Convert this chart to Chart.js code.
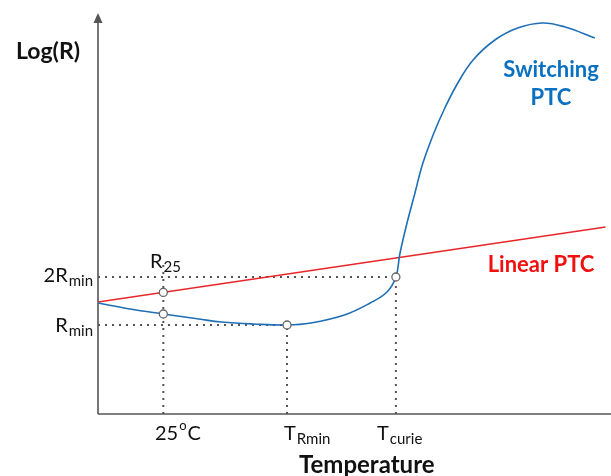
<!DOCTYPE html>
<html>
<head>
<meta charset="utf-8">
<script src="https://cdn.jsdelivr.net/npm/chart.js@4"></script>
<style>
  body { margin: 0; background: #fff; }
  canvas { display: block; }
</style>
</head>
<body>
<canvas id="ptcChart" width="611" height="476"></canvas>
<script>
// Curve values (x = temperature units, y = log(R) units)
const switchingX = [0, 32, 66, 102, 125, 157, 191, 215, 249, 275, 292, 301, 305, 312, 320, 328, 339, 350, 363, 379, 401, 424, 449, 472, 502];
const switchingY = [111, 105, 100, 95, 92, 90, 89, 91, 99, 111, 122, 137, 160, 190, 220, 250, 280, 305, 330, 354, 374, 386, 391, 387, 376];
const linearX = [0, 513];
const linearY = [112, 187];

// Reference points
const t25 = 66, tRmin = 191, tCurie = 301;
const rMin = 89, twoRMin = 137, r25Top = 150;
const markerX = [66, 66, 191, 301];
const markerY = [121.6, 100, 89, 137];

const blue = "#1f6fb5";
const red = "#e8262a";
const dotted = "#555555";

function pts(xs, ys) {
    return xs.map(function(x, i) { return {x: x, y: ys[i]}; });
}

function guide(data) {
    return {
        data: data,
        order: 3,
        borderColor: dotted,
        borderWidth: 2,
        borderDash: [2, 5],
        pointRadius: 0,
        fill: false
    };
}

// Axes with arrow plus all the text labels
const annotations = {
    id: "annotations",
    beforeDatasetsDraw: function(chart) {
        const ctx = chart.ctx;
        const x = chart.scales.x, y = chart.scales.y;
        const x0 = x.getPixelForValue(0), y0 = y.getPixelForValue(0);
        ctx.save();
        ctx.strokeStyle = "#555";
        ctx.lineWidth = 1.6;
        ctx.beginPath();
        ctx.moveTo(x0, y0);
        ctx.lineTo(x0, 20);
        ctx.moveTo(x0, y0);
        ctx.lineTo(611, y0);
        ctx.stroke();
        ctx.fillStyle = "#555";
        ctx.beginPath();
        ctx.moveTo(x0, 13);
        ctx.lineTo(x0 - 4.5, 23);
        ctx.lineTo(x0 + 4.5, 23);
        ctx.closePath();
        ctx.fill();
        ctx.restore();
    },
    afterDraw: function(chart) {
        const ctx = chart.ctx;
        const font = "Lato, 'Open Sans', sans-serif";
        ctx.save();
        ctx.textBaseline = "alphabetic";

        function txt(s, px, py, size, bold, color) {
            ctx.font = (bold ? "bold " : "") + size + "px " + font;
            ctx.fillStyle = color || "#111";
            ctx.fillText(s, px, py);
            return ctx.measureText(s).width;
        }
        function sub(main, small, px, py, align) {
            ctx.font = "20px " + font;
            const w1 = ctx.measureText(main).width;
            ctx.font = "15px " + font;
            const w2 = ctx.measureText(small).width;
            let start = px;
            if (align === "right") start = px - w1 - w2 - 1;
            txt(main, start, py, 20, false);
            txt(small, start + w1 + 1, py + 4, 15, false);
        }

        txt("Log(R)", 16, 59, 23, true);
        sub("2R", "min", 93, 282, "right");
        sub("R", "min", 93, 332, "right");
        sub("R", "25", 150, 268, "left");

        // 25°C
        let w = txt("25", 155, 440, 20, false);
        txt("o", 155 + w + 1, 430, 13, false);
        ctx.font = "13px " + font;
        const wo = ctx.measureText("o").width;
        txt("C", 155 + w + wo + 2, 440, 20, false);

        sub("T", "Rmin", 284, 440, "left");
        sub("T", "curie", 377, 440, "left");

        txt("Temperature", 299, 473, 24, true);

        ctx.textAlign = "center";
        txt("Switching", 551, 77, 22, true, "#0a70c0");
        txt("PTC", 551, 105, 22, true, "#0a70c0");
        txt("Linear PTC", 541, 272, 22, true, "#f01010");
        ctx.restore();
    }
};

new Chart(document.getElementById("ptcChart"), {
    type: "line",
    data: {
        datasets: [
            {
                data: pts(markerX, markerY),
                order: 0,
                showLine: false,
                pointRadius: 4,
                pointBackgroundColor: "#fff",
                pointBorderColor: "#666",
                pointBorderWidth: 1.3
            },
            {
                data: pts(switchingX, switchingY),
                order: 1,
                borderColor: blue,
                borderWidth: 1.6,
                pointRadius: 0,
                tension: 0.4,
                fill: false
            },
            {
                data: pts(linearX, linearY),
                order: 2,
                borderColor: red,
                borderWidth: 1.6,
                pointRadius: 0,
                fill: false
            },
            guide([{x: 0, y: twoRMin}, {x: tCurie, y: twoRMin}]),
            guide([{x: 0, y: rMin}, {x: tRmin, y: rMin}]),
            guide([{x: t25, y: 0}, {x: t25, y: r25Top}]),
            guide([{x: tRmin, y: 0}, {x: tRmin, y: rMin}]),
            guide([{x: tCurie, y: 0}, {x: tCurie, y: twoRMin}])
        ]
    },
    options: {
        responsive: false,
        animation: false,
        layout: { padding: { left: 98, top: 14, right: 0, bottom: 62 } },
        plugins: { legend: { display: false }, tooltip: { enabled: false } },
        scales: {
            x: { type: "linear", min: 0, max: 513, display: false },
            y: { type: "linear", min: 0, max: 400, display: false }
        }
    },
    plugins: [annotations]
});
</script>
</body>
</html>
